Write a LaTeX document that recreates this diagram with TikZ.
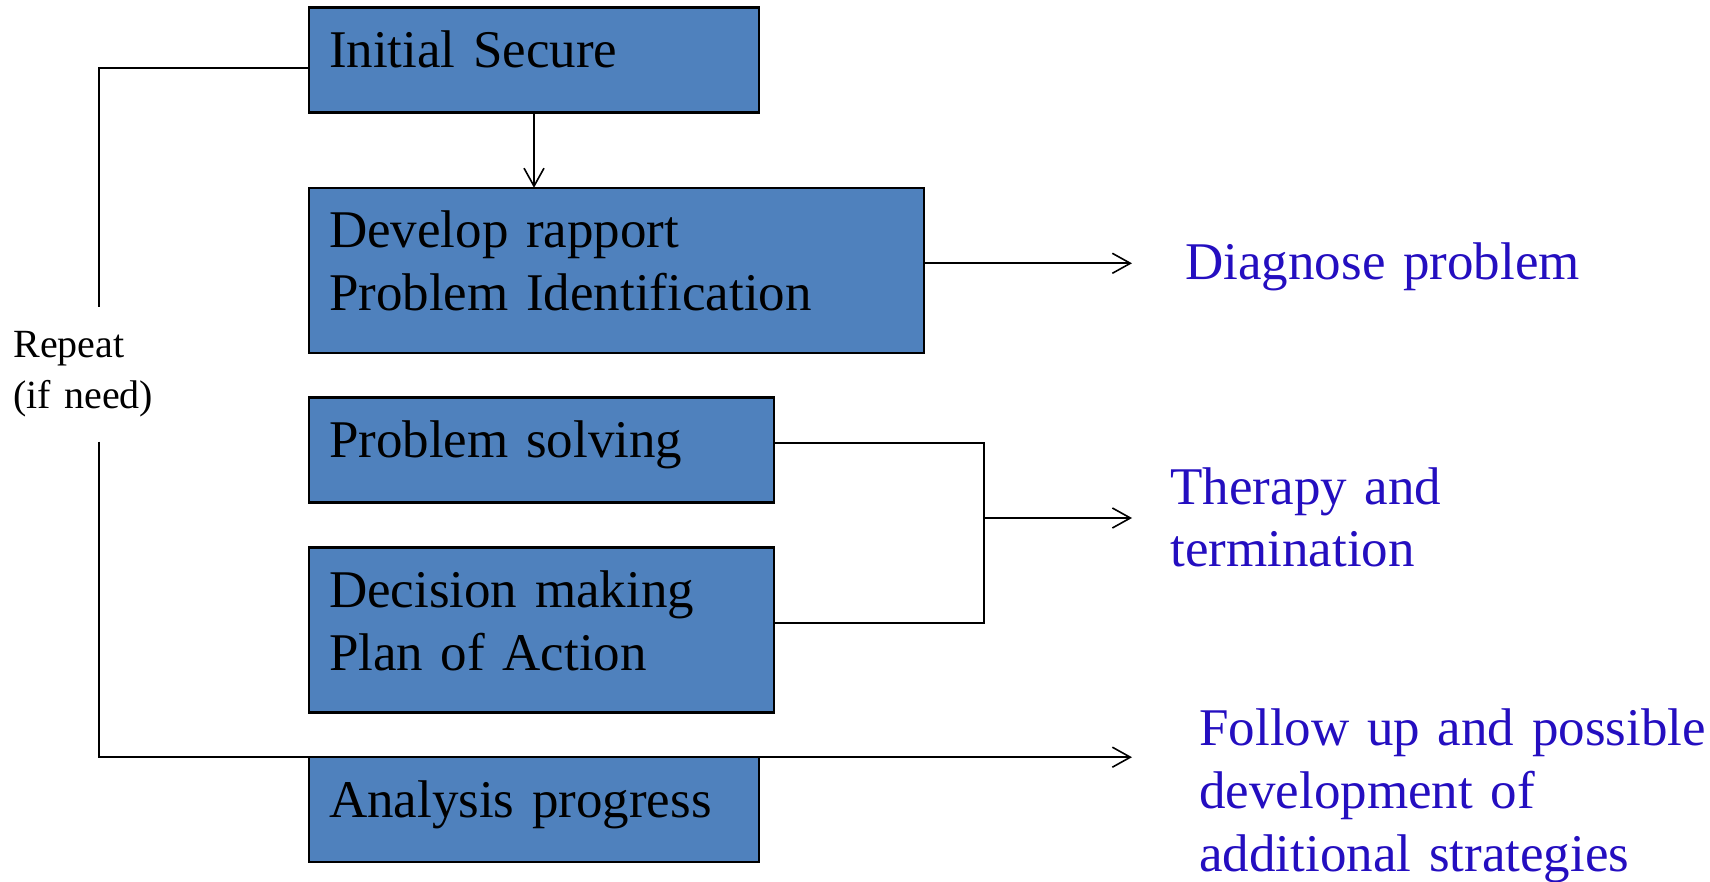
\documentclass[tikz,border=0pt]{standalone}
\usepackage{fontspec}
\setmainfont{Liberation Serif}[WordSpace=0.75]
\usepackage{tikz}
\usetikzlibrary{positioning, arrows.meta, calc}
\definecolor{boxblue}{RGB}{79,129,189}
\definecolor{textblue}{RGB}{36,14,192}

\begin{document}
\begin{tikzpicture}[
    x=0.5pt, y=-0.5pt,
    stepnode/.style={rectangle, draw=black, fill=boxblue, line width=1.1pt, outer sep=0pt, inner xsep=10pt, inner ysep=0pt, align=left, text height=30pt, font=\fontsize{26.5}{31.5}\selectfont},
    outnode/.style={inner sep=0pt, align=left, text width=260pt, text=textblue, font=\fontsize{26.5}{31.5}\selectfont},
    line/.style={line width=0.8pt},
    arrow/.style={line width=0.8pt, -{Straight Barb[length=9pt, width=10pt]}},
]
\useasboundingbox (0,0) rectangle (1710,882);
\node[stepnode, text width=205pt, text depth=22.5pt, anchor=north west](a1) at (309,7.6){Initial Secure};
\node[stepnode, text width=287.5pt, text depth=52.5pt](a2)[below right = 37.6pt and 0pt of a1.south west]{Develop rapport\\Problem Identification};
\node[stepnode, text width=212.5pt, text depth=22.5pt](a3)[below right = 22.4pt and 0pt of a2.south west]{Problem solving};
\node[stepnode, text width=212.5pt, text depth=52.5pt](a4)[below right = 22.4pt and 0pt of a3.south west]{Decision making\\Plan of Action};
\node[stepnode, text width=205pt, text depth=22.5pt](a5)[below right = 22.4pt and 0pt of a4.south west]{Analysis progress};
\node[inner xsep=0pt, inner ysep=12.3pt, align=left, text width=80pt, anchor=base west, font=\fontsize{20}{25}\selectfont](r1) at (13,358){Repeat\\(if need)};
\node[outnode, anchor=base west](o1) at (1185,280){Diagnose problem};
\node[outnode, anchor=base west](o2) at (1170,504){Therapy and\\termination};
\node[outnode, anchor=base west](o3) at (1199,745){Follow up and possible\\development of\\additional strategies};
\coordinate (c1) at (99,68);
\coordinate (c2) at (984,518);
\coordinate (tip) at (1132,0);
\draw[arrow] (a1.south) -- (a1.south |- a2.north);
\draw[arrow] ([yshift=3.5pt]a2.east) -- ([yshift=3.5pt]a2.east -| tip);
\draw[line] ([yshift=3.5pt]a3.east) -- ([yshift=3.5pt]a3.east -| c2) -- ([yshift=3.5pt]a4.east -| c2) -- ([yshift=3.5pt]a4.east);
\draw[arrow] (c2) -- (c2 -| tip);
\draw[line] (a1.west |- c1) -- (c1) -- (c1 |- r1.north);
\draw[line] (c1 |- r1.south) -- (c1 |- a5.north) -- (a5.north west);
\draw[arrow] (a5.north east) -- (a5.north east -| tip);
\end{tikzpicture}
\end{document}
